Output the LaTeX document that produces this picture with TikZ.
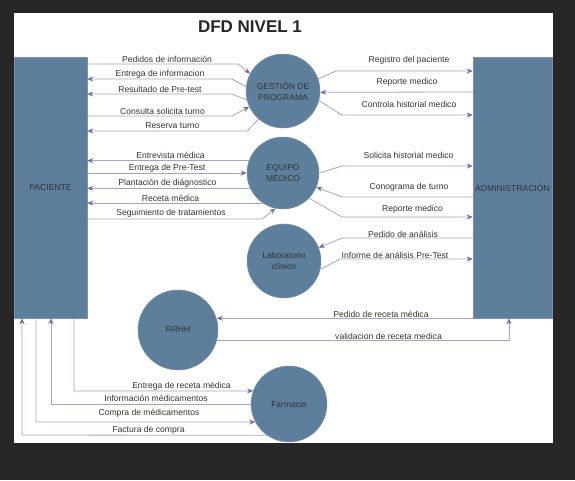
\documentclass[tikz,border=0pt]{standalone}
\usepackage{fontspec}
\setmainfont{Liberation Sans}
\usetikzlibrary{arrows.meta}
\definecolor{bgdark}{HTML}{272727}
\definecolor{shapec}{HTML}{5E7F9B}
\definecolor{shapeb}{HTML}{7B93AA}
\definecolor{linec}{HTML}{A8A2C9}
\definecolor{tipc}{HTML}{7466AD}
\definecolor{txtc}{HTML}{333333}
\begin{document}
\begin{tikzpicture}[x=1pt,y=-1pt,
 entity/.style={draw=shapeb, line width=0.5pt, fill=shapec, rectangle, inner sep=0pt, font=\fontsize{8.6}{10}\selectfont, text=txtc},
 proc/.style={draw=shapeb, line width=0.5pt, fill=shapec, circle, inner sep=0pt, font=\fontsize{8.5}{11}\selectfont, text=txtc, align=center},
 flow/.style={draw=linec, line width=0.8pt, -{Stealth[length=6pt,width=5pt,color=tipc]}},
 lbl/.style={font=\fontsize{8.6}{10}\selectfont, text=txtc, inner sep=0pt}
]
\useasboundingbox (0,0) rectangle (575,480);
\fill[bgdark] (0,0) rectangle (575,480);
\fill[white] (14,13) rectangle (553,443);

\node[font=\bfseries\fontsize{17}{20}\selectfont, text=black!85] (title) at (250,27) {DFD NIVEL 1};

\node[entity, minimum width=73pt, minimum height=261pt] (pac) at (50.5,187.5) {PACIENTE};
\node[entity, minimum width=79pt, minimum height=261pt] (adm) at (512.5,187.5) {ADMINISTRACIÓN};

\node[proc, minimum size=74pt] (gp) at (283,91) {GESTIÓN DE\\PROGRAMA};
\node[proc, minimum size=72pt] (em) at (283,173) {EQUIPO\\MÉDICO};
\node[proc, minimum size=74pt] (lab) at (284,261) {Laboratorio\\clínico};
\node[proc, minimum size=80pt] (rrhh) at (178,330) {RRHH};
\node[proc, minimum size=76pt] (farm) at (289,404) {Farmacia};

% PACIENTE <-> GESTION
\draw[flow] (pac.east |- 0,64) -- (238,64) -- (gp.152);
\node[lbl] (l1) at (167,59.5) {Pedidos de información};
\draw[flow] (gp.173) -- (232,79) -- (pac.east |- 0,79);
\node[lbl] (l2) at (160,74.5) {Entrega de informacion};
\draw[flow] (gp.194) -- (232,94) -- (pac.east |- 0,94);
\node[lbl] (l3) at (160,89) {Resultado de Pre-test};
\draw[flow] (pac.east |- 0,116) -- (232,116) -- (gp.205);
\node[lbl] (l4) at (162.5,111) {Consulta solicita turno};
\draw[flow] (gp.229) -- (247,131) -- (pac.east |- 0,131);
\node[lbl] (l5) at (172.5,126) {Reserva turno};

% GESTION <-> ADMIN
\draw[flow] (gp.19) -- (336,71) -- (adm.west |- 0,71);
\node[lbl] (l6) at (409,60) {Registro del paciente};
\draw[flow] (adm.west |- 0,92) -- (gp.-2);
\node[lbl] (l7) at (407,82) {Reporte medico};
\draw[flow] (gp.-15) -- (342,115) -- (adm.west |- 0,115);
\node[lbl] (l8) at (409,104) {Controla historial medico};

% PACIENTE <-> EQUIPO
\draw[flow] (em.160) -- (pac.east |- em.160);
\node[lbl] (l9) at (170.5,155) {Entrevista médica};
\draw[flow] (pac.east |- em.west) -- (em.west);
\node[lbl] (l10) at (167,168) {Entrega de Pre-Test};
\draw[flow] (em.205) -- (pac.east |- em.205);
\node[lbl] (l11) at (167.5,183) {Plantación de diágnostico};
\draw[flow] (em.236) -- (pac.east |- em.236);
\node[lbl] (l12) at (170.5,198) {Receta médica};
\draw[flow] (pac.east |- 0,219) -- (262,219) -- (em.258);
\node[lbl] (l13) at (171,213) {Seguimiento de tratamientos};

% EQUIPO <-> ADMIN
\draw[flow] (em.east) -- (342,166) -- (adm.west |- 0,166);
\node[lbl] (l14) at (408.5,155) {Solicita historial medico};
\draw[flow] (adm.west |- 0,197) -- (342,197) -- (em.-23);
\node[lbl] (l15) at (409,187) {Conograma de turno};
\draw[flow] (em.-44) -- (342,217) -- (adm.west |- 0,217);
\node[lbl] (l16) at (412.5,209) {Reporte medico};

% LAB <-> ADMIN
\draw[flow] (adm.west |- 0,238) -- (342,238) -- (lab.21);
\node[lbl] (l17) at (403,234.5) {Pedido de análisis};
\draw[flow] (lab.-13) -- (340,259) -- (adm.west |- 0,259);
\node[lbl] (l18) at (395,255.5) {Informe de análisis Pre-Test};

% RRHH <-> ADMIN
\draw[flow] (adm.south west) -- (rrhh.16 |- adm.south west);
\node[lbl] (l19) at (381,314.5) {Pedido de receta médica};
\draw[flow] (rrhh.-15) -- (rrhh.-15 -| 509,0) -- (adm.south -| 509,0);
\node[lbl] (l20) at (388.5,336) {validacion de receta medica};

% PACIENTE <-> FARMACIA
\draw[flow] (pac.south -| 74,0) -- (74,391) -- (farm.160);
\node[lbl] (l21) at (181.5,386) {Entrega de receta médica};
\draw[flow] (farm.west) -- (51,404) -- (pac.south -| 51,0);
\node[lbl] (l22) at (156,398.5) {Información médicamentos};
\draw[flow] (pac.south -| 36,0) -- (36,422) -- (farm.208);
\node[lbl] (l23) at (149,413) {Compra de médicamentos};
\draw[flow] (farm.235) -- (22,435) -- (pac.south -| 22,0);
\node[lbl] (l24) at (148.5,430.5) {Factura de compra};
\end{tikzpicture}
\end{document}
